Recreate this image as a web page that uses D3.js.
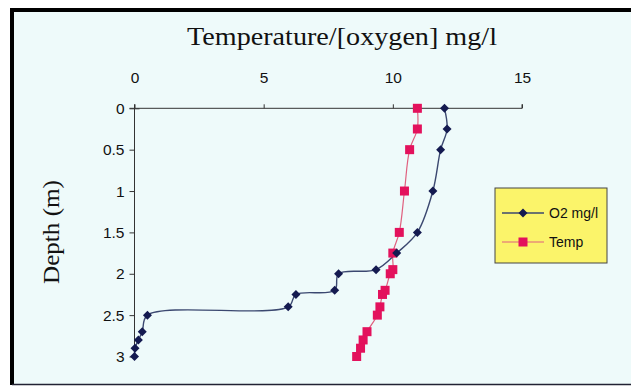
<!DOCTYPE html>
<html><head><meta charset="utf-8">
<script src="https://cdn.jsdelivr.net/npm/d3@7"></script>
<style>html,body{margin:0;padding:0;background:#fff;}svg{display:block;}</style>
</head><body>
<script>
const depths = [0, 0.25, 0.5, 1, 1.5, 1.75, 1.95, 2.0, 2.2, 2.25, 2.4, 2.5, 2.7, 2.8, 2.9, 3.0];
const o2 =     [12.0, 12.1, 11.85, 11.55, 10.95, 10.15, 9.35, 7.9, 7.75, 6.25, 5.95, 0.5, 0.3, 0.15, 0.02, 0.0];
const temp =   [10.95, 10.95, 10.65, 10.45, 10.25, 10.0, 10.0, 9.9, 9.7, 9.6, 9.5, 9.4, 9.0, 8.85, 8.75, 8.6];
const xTicks = [0, 5, 10, 15];
const yTicks = [0, 0.5, 1, 1.5, 2, 2.5, 3];
const seriesNames = ["O2 mg/l", "Temp"];

const W = 631, H = 386;
const svg = d3.select("body").append("svg").attr("width", W).attr("height", H);
svg.append("rect").attr("width", W).attr("height", H).attr("fill", "#fff");
svg.append("rect").attr("x", 12).attr("y", 10).attr("width", W - 12).attr("height", 374).attr("fill", "#eefafa");
// frame
svg.append("line").attr("x1", 12).attr("x2", W).attr("y1", 10).attr("y2", 10).attr("stroke", "#000").attr("stroke-width", 4);
svg.append("line").attr("x1", 12).attr("x2", 12).attr("y1", 8).attr("y2", 385).attr("stroke", "#000").attr("stroke-width", 4);
svg.append("line").attr("x1", 12).attr("x2", W).attr("y1", 384.5).attr("y2", 384.5).attr("stroke", "#223").attr("stroke-width", 1.5);

const x = d3.scaleLinear().domain([0, 15]).range([134.5, 522]);
const y = d3.scaleLinear().domain([0, 3]).range([108.3, 356.5]);

const gx = svg.append("g").attr("transform", `translate(0,${y(0)})`)
  .call(d3.axisTop(x).tickValues(xTicks).tickSize(4).tickPadding(21).tickFormat(d3.format("d")));
const gy = svg.append("g").attr("transform", `translate(${x(0)},0)`)
  .call(d3.axisLeft(y).tickValues(yTicks).tickSize(5).tickPadding(5).tickFormat(d => d));
[gx, gy].forEach(g => {
  g.selectAll("path.domain").attr("stroke", "#333").attr("stroke-width", 1);
  g.selectAll(".tick line").attr("stroke", "#333").attr("stroke-width", 1);
  g.selectAll(".tick text").attr("font-family", "Liberation Sans, Arial, sans-serif").attr("font-size", 15.5).attr("fill", "#111");
});
gx.select("path.domain").attr("d", `M${x(0)},-4V0H${x(15)}V-4`);
gy.select("path.domain").attr("d", `M-5,${y(0)}H0V${y(3)}`);
gy.selectAll(".tick").filter(d => d === 0).select("line").attr("x2", 5).attr("x1", -5);

svg.append("text").attr("x", 342).attr("y", 45).attr("text-anchor", "middle")
  .attr("font-family", "Liberation Serif, DejaVu Serif, serif").attr("font-size", 25).attr("fill", "#111")
  .attr("textLength", 310).attr("lengthAdjust", "spacingAndGlyphs")
  .text("Temperature/[oxygen] mg/l");
svg.append("text").attr("transform", "translate(59,232) rotate(-90)").attr("text-anchor", "middle")
  .attr("font-family", "Liberation Serif, DejaVu Serif, serif").attr("font-size", 24).attr("fill", "#111")
  .attr("textLength", 104).attr("lengthAdjust", "spacingAndGlyphs")
  .text("Depth (m)");

const line = d3.line().curve(d3.curveCatmullRom.alpha(0.5));
const o2Pts = depths.map((d, i) => [x(o2[i]), y(d)]);
const tPts = depths.map((d, i) => [x(temp[i]), y(d)]);

svg.append("path").attr("d", line(tPts)).attr("fill", "none").attr("stroke", "#e0607f").attr("stroke-width", 1.2);
svg.append("path").attr("d", line(o2Pts)).attr("fill", "none").attr("stroke", "#3b4870").attr("stroke-width", 1.4);

const diamond = (cx, cy, r) => `M${cx},${cy - r}L${cx + r},${cy}L${cx},${cy + r}L${cx - r},${cy}Z`;
svg.append("g").selectAll("rect").data(tPts).join("rect")
  .attr("x", d => d[0] - 4.5).attr("y", d => d[1] - 4.5).attr("width", 9).attr("height", 9)
  .attr("fill", "#e3115c");
svg.append("g").selectAll("path").data(o2Pts).join("path")
  .attr("d", d => diamond(d[0], d[1], 4.5)).attr("fill", "#141a50");

// legend
const lg = svg.append("g");
lg.append("rect").attr("x", 495).attr("y", 188).attr("width", 112).attr("height", 75)
  .attr("fill", "#fbf46a").attr("stroke", "#444").attr("stroke-width", 1);
const ly = [213, 242];
lg.append("line").attr("x1", 502).attr("x2", 544).attr("y1", ly[0]).attr("y2", ly[0]).attr("stroke", "#3b4870").attr("stroke-width", 1.4);
lg.append("path").attr("d", diamond(523, ly[0], 4.5)).attr("fill", "#141a50");
lg.append("line").attr("x1", 502).attr("x2", 544).attr("y1", ly[1]).attr("y2", ly[1]).attr("stroke", "#e0607f").attr("stroke-width", 1.2);
lg.append("rect").attr("x", 518.5).attr("y", ly[1] - 4.5).attr("width", 9).attr("height", 9).attr("fill", "#e3115c");
seriesNames.forEach((n, i) => {
  lg.append("text").attr("x", 549).attr("y", ly[i] + 5).attr("font-family", "Liberation Sans, Arial, sans-serif")
    .attr("font-size", 14).attr("fill", "#111").text(n);
});
</script>
</body></html>
